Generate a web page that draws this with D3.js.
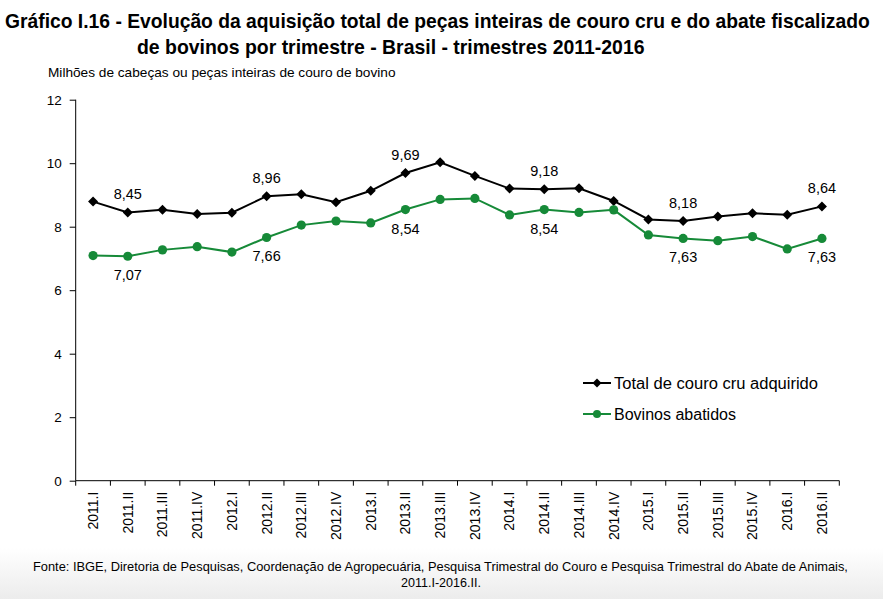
<!DOCTYPE html>
<html><head><meta charset="utf-8">
<script src="https://cdn.jsdelivr.net/npm/d3@7"></script>
<style>body{margin:0;background:#fff;}svg{display:block;}</style>
</head><body>
<script>
const categories = ["2011.I","2011.II","2011.III","2011.IV","2012.I","2012.II","2012.III","2012.IV","2013.I","2013.II","2013.III","2013.IV","2014.I","2014.II","2014.III","2014.IV","2015.I","2015.II","2015.III","2015.IV","2016.I","2016.II"];
const totalCouro = [8.79,8.45,8.53,8.40,8.44,8.96,9.02,8.77,9.13,9.69,10.03,9.60,9.20,9.18,9.21,8.81,8.23,8.18,8.32,8.42,8.38,8.64];
const bovinosAbatidos = [7.09,7.07,7.27,7.37,7.20,7.66,8.05,8.18,8.12,8.54,8.86,8.89,8.37,8.54,8.45,8.53,7.74,7.63,7.56,7.69,7.30,7.63];
const labelIdx = [1,5,9,13,17,21];
const yTicks = [0,2,4,6,8,10,12];
const seriesNames = ["Total de couro cru adquirido","Bovinos abatidos"];
const colors = ["#000000","#168a38"];

const W=883,H=599;
const svg=d3.select("body").append("svg").attr("width",W).attr("height",H);
const defs=svg.append("defs");
const g=defs.append("linearGradient").attr("id","fg").attr("x1",0).attr("x2",0).attr("y1",0).attr("y2",1);
g.append("stop").attr("offset","0").attr("stop-color","#ffffff");
g.append("stop").attr("offset","1").attr("stop-color","#ececec");
svg.append("rect").attr("x",0).attr("y",548).attr("width",W).attr("height",H-548).attr("fill","url(#fg)");

const font="'Liberation Sans', Arial, sans-serif";

function squeezed(txt,x0,yb,size,weight,targetW,anchor){
  const t=svg.append("text").attr("x",0).attr("y",0).attr("font-family",font).attr("font-size",size)
    .attr("font-weight",weight).attr("text-anchor","start").text(txt);
  const w=t.node().getComputedTextLength();
  const s=targetW/w;
  const left = anchor==="middle" ? x0-targetW/2 : x0;
  t.attr("transform",`translate(${left},${yb}) scale(${s},1)`);
  return t;
}
squeezed("Gráfico I.16 - Evolução da aquisição total de peças inteiras de couro cru e do abate fiscalizado",5,27.5,21,"bold",865);
squeezed("de bovinos por trimestre - Brasil - trimestres 2011-2016",137,53.5,21,"bold",508);
squeezed("Milhões de cabeças ou peças inteiras de couro de bovino",48,77,12.5,"normal",348);

const x=d3.scaleBand().domain(categories).range([75.7,839.3]);
const y=d3.scaleLinear().domain([0,12]).range([480.7,99.7]);

const yAxis=svg.append("g").attr("transform","translate(75.7,0)")
  .call(d3.axisLeft(y).tickValues(yTicks).tickSize(6).tickPadding(8).tickFormat(d3.format("d")));
yAxis.selectAll("text").attr("font-family",font).attr("font-size",13.5).attr("fill","#000");
yAxis.selectAll("line,path").attr("stroke","#000");
yAxis.select(".domain").attr("d","M0,99.7V480.7");

const xAxis=svg.append("g").attr("transform","translate(0,480.7)")
  .call(d3.axisBottom(x).tickSize(0).tickPadding(0));
xAxis.select(".domain").attr("stroke","#000").attr("d","M75.7,0H839.3");
xAxis.selectAll(".tick text").attr("font-family",font).attr("font-size",14).attr("fill","#000")
  .attr("transform","rotate(-90)").attr("text-anchor","end").attr("x",-11).attr("y",0).attr("dy","0.35em");
const bounds=categories.map(c=>x(c)).concat([x.range()[1]]);
xAxis.selectAll(".bt").data(bounds).enter().append("line").attr("x1",d=>d).attr("x2",d=>d).attr("y1",0).attr("y2",5).attr("stroke","#000");

const line=d3.line().x((d,i)=>x(categories[i])+x.bandwidth()/2).y(d=>y(d));
[totalCouro,bovinosAbatidos].forEach((s,k)=>{
  svg.append("path").attr("d",line(s)).attr("fill","none").attr("stroke",colors[k]).attr("stroke-width",2);
});
svg.selectAll(".dm").data(totalCouro).enter().append("path")
  .attr("d",d3.symbol().type(d3.symbolSquare).size(50))
  .attr("transform",(d,i)=>`translate(${x(categories[i])+x.bandwidth()/2},${y(d)}) rotate(45)`).attr("fill","#000");
svg.selectAll(".ci").data(bovinosAbatidos).enter().append("circle")
  .attr("cx",(d,i)=>x(categories[i])+x.bandwidth()/2).attr("cy",d=>y(d)).attr("r",4.6).attr("fill",colors[1]);

const fmt=v=>v.toFixed(2).replace(".",",");
labelIdx.forEach(i=>{
  const cx=x(categories[i])+x.bandwidth()/2;
  svg.append("text").attr("x",cx).attr("y",y(totalCouro[i])-13).attr("text-anchor","middle")
    .attr("font-family",font).attr("font-size",14.5).attr("fill","#000").text(fmt(totalCouro[i]));
  svg.append("text").attr("x",cx).attr("y",y(bovinosAbatidos[i])+24).attr("text-anchor","middle")
    .attr("font-family",font).attr("font-size",14.5).attr("fill","#000").text(fmt(bovinosAbatidos[i]));
});

const lg=[383,414];
const lgW=[204,122];
seriesNames.forEach((n,k)=>{
  svg.append("line").attr("x1",583).attr("x2",611).attr("y1",lg[k]).attr("y2",lg[k]).attr("stroke",colors[k]).attr("stroke-width",2);
  if(k===0) svg.append("path").attr("d",d3.symbol().type(d3.symbolSquare).size(40)).attr("transform",`translate(597,${lg[k]}) rotate(45)`).attr("fill","#000");
  else svg.append("circle").attr("cx",597).attr("cy",lg[k]).attr("r",4).attr("fill",colors[k]);
  svg.append("text").attr("x",614).attr("y",lg[k]+5.5).attr("font-family",font).attr("font-size",16).attr("fill","#000")
    .attr("textLength",lgW[k]).attr("lengthAdjust","spacingAndGlyphs").text(n);
});

squeezed("Fonte: IBGE, Diretoria de Pesquisas, Coordenação de Agropecuária, Pesquisa Trimestral do Couro e Pesquisa Trimestral do Abate de Animais,",441,571,12.5,"normal",816,"middle");
squeezed("2011.I-2016.II.",441,587,13,"normal",80,"middle");
</script>
</body></html>
